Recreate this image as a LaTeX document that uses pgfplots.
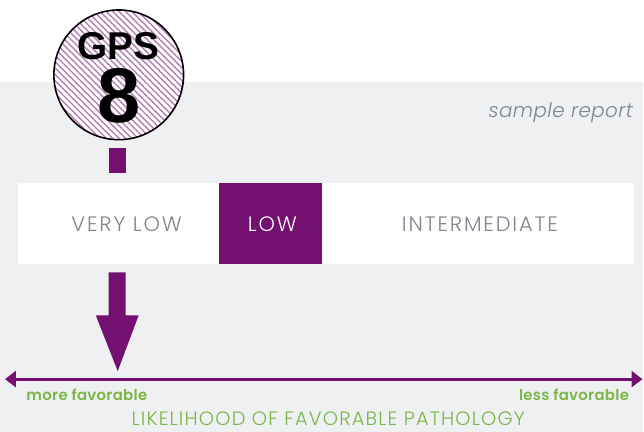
\documentclass[border=0pt]{standalone}
\usepackage{pgfplots}
\pgfplotsset{compat=1.18}
\usepackage{fontspec}
\setmainfont{Poppins}[UprightFont={* Light}, ItalicFont={* Light Italic}, BoldFont={* SemiBold}]
\newfontfamily\arial{Liberation Sans}
\usetikzlibrary{patterns.meta,arrows.meta}
\definecolor{gpspurple}{HTML}{74106F}
\definecolor{hatch}{HTML}{B27DB0}
\definecolor{bggray}{HTML}{EFF0F2}
\definecolor{txtgray}{HTML}{7E858C}
\definecolor{fgreen}{HTML}{7AB648}
\begin{document}
\begin{tikzpicture}
\begin{axis}[
  scale only axis, width=644bp, height=433bp,
  xmin=0, xmax=644, ymin=0, ymax=433, y dir=reverse,
  hide axis, clip=false,
]
% backgrounds
\addplot[draw=none, fill=white] coordinates {(0,0) (644,0) (644,82) (0,82)};
\addplot[draw=none, fill=bggray] coordinates {(0,82) (644,82) (644,433) (0,433)};
% category band
\addplot[draw=none, fill=white] coordinates {(18,183) (220,183) (220,265) (18,265)};
\addplot[draw=none, fill=gpspurple] coordinates {(220,183) (323,183) (323,265) (220,265)};
\addplot[draw=none, fill=white] coordinates {(323,183) (635,183) (635,265) (323,265)};
\node[font=\fontsize{21}{23}\selectfont\addfontfeatures{LetterSpace=9}, text=txtgray] at (axis cs:127,225) {VERY LOW};
\node[font=\fontsize{21}{23}\selectfont\addfontfeatures{LetterSpace=9}, text=white] at (axis cs:273,225) {LOW};
\node[font=\fontsize{21}{23}\selectfont\addfontfeatures{LetterSpace=9}, text=txtgray] at (axis cs:481,225) {INTERMEDIATE};
% stem
\addplot[draw=none, fill=gpspurple] coordinates {(109,148) (126,148) (126,173) (109,173)};
% arrow down
\addplot[draw=none, fill=gpspurple] coordinates {(109,273) (126,273) (126,316) (139,316) (118,372) (96,316) (109,316)};
% horizontal scale
\addplot[gpspurple, line width=3bp, {Triangle[length=11bp,width=16bp]}-{Triangle[length=11bp,width=16bp]}] coordinates {(5,380) (644,380)};
\node[font=\bfseries\fontsize{15}{18}\selectfont\addfontfeatures{LetterSpace=2}, text=fgreen, anchor=west] at (axis cs:23,396) {more favorable};
\node[font=\bfseries\fontsize{15}{18}\selectfont\addfontfeatures{LetterSpace=2}, text=fgreen, anchor=east] at (axis cs:634,396) {less favorable};
\node[inner sep=0pt, font=\fontsize{19.5}{21}\selectfont\addfontfeatures{LetterSpace=6}, text=fgreen] at (axis cs:329,420) {LIKELIHOOD OF FAVORABLE PATHOLOGY};
\node[font=\itshape\fontsize{20}{22}\selectfont\addfontfeatures{LetterSpace=2}, text=txtgray, anchor=east] at (axis cs:638,113) {sample report};
% GPS badge
\fill[white] (axis cs:119,75) circle[radius=65];
\fill[pattern={Lines[angle=-45,distance=4.5bp,line width=1.4bp]}, pattern color=hatch] (axis cs:119,75) circle[radius=65];
\draw[black, line width=1.6bp] (axis cs:119,75) circle[radius=65];
\node[font=\arial\bfseries\fontsize{39}{42}\selectfont] at (axis cs:119,46) {GPS};
\node[font=\arial\bfseries\fontsize{78}{80}\selectfont] at (axis cs:119,96) {8};
\end{axis}
\end{tikzpicture}
\end{document}
